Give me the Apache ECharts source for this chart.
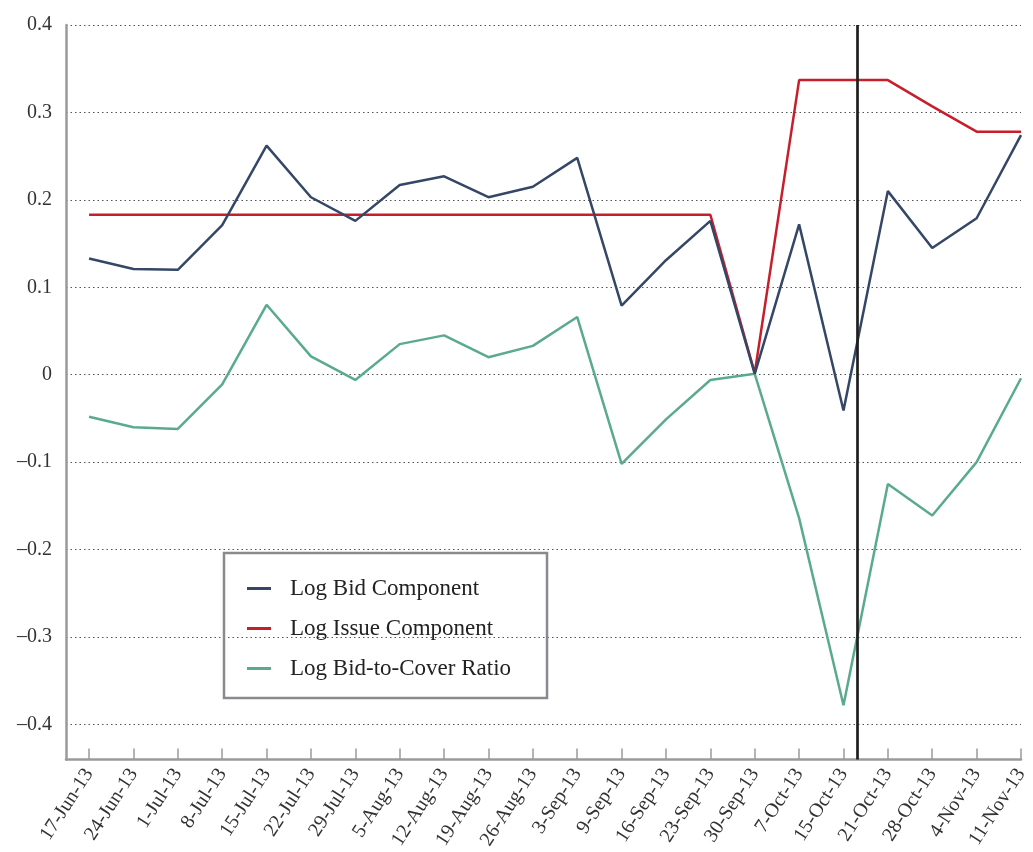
<!DOCTYPE html>
<html>
<head>
<meta charset="utf-8">
<script src="https://cdn.jsdelivr.net/npm/echarts@6/dist/echarts.min.js"></script>
<style>
  html, body { margin: 0; padding: 0; background: #fff; }
  #chart { width: 1033px; height: 852px; }
</style>
</head>
<body>
<div id="chart"></div>
<script>
// weekly auction dates
const dates = [
  "17-Jun-13", "24-Jun-13", "1-Jul-13", "8-Jul-13", "15-Jul-13", "22-Jul-13",
  "29-Jul-13", "5-Aug-13", "12-Aug-13", "19-Aug-13", "26-Aug-13", "3-Sep-13",
  "9-Sep-13", "16-Sep-13", "23-Sep-13", "30-Sep-13", "7-Oct-13", "15-Oct-13",
  "21-Oct-13", "28-Oct-13", "4-Nov-13", "11-Nov-13"
];
const logBid = [
  0.133, 0.121, 0.120, 0.171, 0.262, 0.203, 0.176, 0.217, 0.227, 0.203, 0.215,
  0.248, 0.079, 0.131, 0.176, 0.001, 0.172, -0.041, 0.210, 0.145, 0.179, 0.274
];
const logIssue = [
  0.183, 0.183, 0.183, 0.183, 0.183, 0.183, 0.183, 0.183, 0.183, 0.183, 0.183,
  0.183, 0.183, 0.183, 0.183, 0.002, 0.337, 0.337, 0.337, 0.307, 0.278, 0.278
];
const logBidToCover = [
  -0.048, -0.060, -0.062, -0.011, 0.080, 0.021, -0.006, 0.035, 0.045, 0.020, 0.033,
  0.066, -0.102, -0.051, -0.006, 0.001, -0.164, -0.378, -0.125, -0.161, -0.100, -0.004
];
// position of the vertical marker, in date index units
const markerAt = 17.3;

const FONT = "Liberation Serif";
const tickIdx = dates.map((d, i) => i);
const toPairs = (arr) => arr.map((v, i) => [i, v]);

const chart = echarts.init(document.getElementById("chart"), null, { renderer: "canvas" });

const option = {
  animation: false,
  backgroundColor: "#fff",
  grid: { left: 66, right: 12, top: 25, bottom: 92, containLabel: false },
  legend: {
    orient: "vertical",
    left: 224,
    top: 553,
    padding: [24, 36, 18, 23],
    itemGap: 17,
    itemWidth: 24,
    itemHeight: 3,
    icon: "rect",
    borderColor: "#8a8a8e",
    borderWidth: 2.5,
    textStyle: { fontFamily: FONT, fontSize: 23, color: "#222", padding: [0, 0, 0, 14] },
    data: ["Log Bid Component", "Log Issue Component", "Log Bid-to-Cover Ratio"]
  },
  xAxis: {
    type: "value",
    min: -0.52,
    max: 21,
    axisLine: { show: true, onZero: false, lineStyle: { color: "#9a9a9e", width: 2.5 } },
    axisTick: {
      show: true, inside: true, length: 11, customValues: tickIdx,
      lineStyle: { color: "#9a9a9e", width: 1.5 }
    },
    axisLabel: {
      show: true, customValues: tickIdx, rotate: 57, margin: 11,
      fontFamily: FONT, fontSize: 20, color: "#333",
      formatter: (v) => dates[Math.round(v)] || ""
    },
    splitLine: { show: false }
  },
  yAxis: {
    type: "value",
    min: -0.44,
    max: 0.4,
    splitNumber: 8,
    axisLine: { show: true, onZero: false, lineStyle: { color: "#9a9a9e", width: 2.5 } },
    axisTick: { show: false },
    axisLabel: {
      fontFamily: FONT, fontSize: 20, color: "#333", margin: 14, padding: [0, 0, 8, 0],
      formatter: (v) => {
        if (Math.abs(v + 0.44) < 1e-6) return "";
        const r = Math.round(v * 10) / 10;
        return r === 0 ? "0" : (r < 0 ? "\u2013" + Math.abs(r) : String(r));
      }
    },
    splitLine: { show: true, lineStyle: { color: "#555", type: [1.5, 3], width: 1 } }
  },
  series: [
    {
      name: "Log Bid Component",
      type: "line",
      data: toPairs(logBid),
      symbol: "none",
      lineStyle: { color: "#354766", width: 2.5 },
      itemStyle: { color: "#354766" },
      z: 3,
      markLine: {
        silent: true,
        symbol: "none",
        label: { show: false },
        lineStyle: { color: "#1e1e1e", width: 2.7, type: "solid" },
        data: [{ xAxis: markerAt }]
      }
    },
    {
      name: "Log Issue Component",
      type: "line",
      data: toPairs(logIssue),
      symbol: "none",
      lineStyle: { color: "#c81e2b", width: 2.5 },
      itemStyle: { color: "#c81e2b" },
      z: 2
    },
    {
      name: "Log Bid-to-Cover Ratio",
      type: "line",
      data: toPairs(logBidToCover),
      symbol: "none",
      lineStyle: { color: "#5aab8e", width: 2.5 },
      itemStyle: { color: "#5aab8e" },
      z: 2
    }
  ]
};

chart.setOption(option);
</script>
</body>
</html>
